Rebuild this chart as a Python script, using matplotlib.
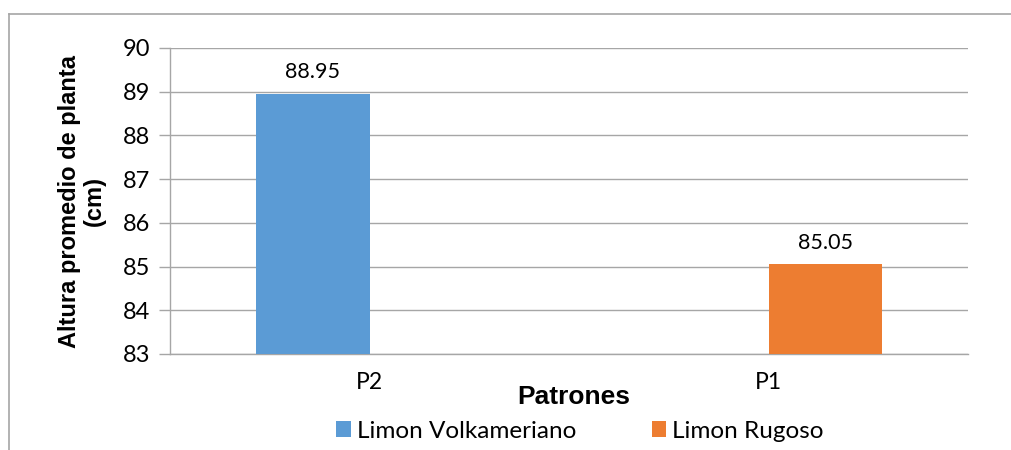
import matplotlib
matplotlib.use("Agg")
import matplotlib.pyplot as plt
from matplotlib.lines import Line2D
from matplotlib.patches import Patch

categories = ["P2", "P1"]
series_names = ["Limon Volkameriano", "Limon Rugoso"]
volkameriano = [88.95, None]
rugoso = [None, 85.05]
colors = ["#5B9BD5", "#ED7D31"]
y_ticks = [83, 84, 85, 86, 87, 88, 89, 90]

W, H = 1011, 450
fig = plt.figure(figsize=(W / 100, H / 100), dpi=100)
ax = fig.add_axes([170 / W, 1 - 354 / H, (968 - 170) / W, (354 - 48) / H])

grid_c = "#A6A6A6"
base = y_ticks[0]
w = 0.2857
offsets = [-w, 0.0]
for vals, off, col in zip([volkameriano, rugoso], offsets, colors):
    for i, v in enumerate(vals):
        if v is None:
            continue
        ax.bar(i + off, v - base, width=w, bottom=base, align="edge", color=col, zorder=3)
        ax.text(i + off + w / 2, v + 0.27, f"{v:.2f}", ha="center", va="bottom",
                fontsize=15.5, family="Lato", color="#000000")

ax.set_xlim(-0.5, 1.5)
ax.set_ylim(y_ticks[0], y_ticks[-1])
ax.set_yticks(y_ticks)
ax.set_yticklabels([str(t) for t in y_ticks], fontsize=17, family="Lato")
ax.set_xticks(range(len(categories)))
ax.set_xticklabels(categories, fontsize=16.5, family="Lato")
ax.tick_params(axis="x", length=0, pad=13)
ax.tick_params(axis="y", length=8, width=1, color=grid_c, pad=6)
ax.grid(axis="y", color=grid_c, lw=1, zorder=0)
for s in ["top", "right"]:
    ax.spines[s].set_visible(False)
for s in ["left", "bottom"]:
    ax.spines[s].set_color(grid_c)
    ax.spines[s].set_linewidth(1)

fig.text(574 / W, 1 - 397 / H, "Patrones", ha="center", va="center",
         fontsize=19, fontweight="bold", family="Liberation Sans")
fig.text(82 / W, 1 - 201 / H, "Altura promedio de planta\n(cm)", ha="center", va="center",
         rotation=90, fontsize=17, fontweight="bold", family="Liberation Sans",
         multialignment="center", linespacing=1.15)

handles = [Patch(facecolor=c, edgecolor="none") for c in colors]
fig.legend(handles, series_names, loc="center", bbox_to_anchor=(580 / W, 1 - 431 / H),
           ncol=2, frameon=False, prop={"family": "Lato", "size": 17.5},
           handlelength=0.6, handleheight=0.6, handletextpad=0.25, columnspacing=3.1,
           borderpad=0)

# chart border
fig.add_artist(Line2D([9 / W, 1.0], [1 - 14 / H, 1 - 14 / H], color=grid_c, lw=1.2,
                      transform=fig.transFigure))
fig.add_artist(Line2D([9 / W, 9 / W], [0, 1 - 14 / H], color=grid_c, lw=1.2,
                      transform=fig.transFigure))

fig.savefig("out.png", dpi=100)
